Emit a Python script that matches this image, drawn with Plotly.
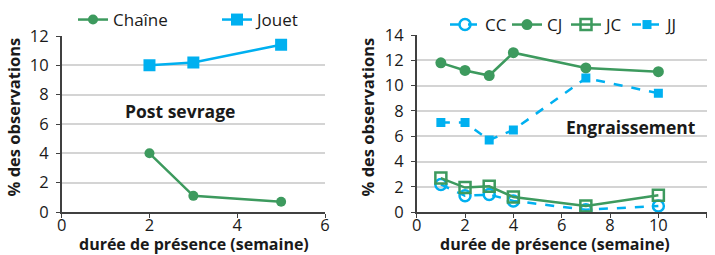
import plotly.graph_objects as go

# Left panel: Post sevrage
weeks_ps = [2, 3, 5]
chaine = [4.0, 1.1, 0.7]
jouet = [10.0, 10.2, 11.4]

# Right panel: Engraissement
weeks_en = [1, 2, 3, 4, 7, 10]
cc = [2.2, 1.3, 1.4, 0.9, 0.2, 0.5]
cj = [11.8, 11.2, 10.8, 12.6, 11.4, 11.1]
jc = [2.7, 1.95, 2.05, 1.2, 0.5, 1.35]
jj = [7.1, 7.1, 5.7, 6.5, 10.6, 9.4]

GREEN = "#3d9a5e"
BLUE = "#00b0f0"
FONT = "Open Sans"
TXT = "#1a1a1a"

W, H = 715, 255


def fx(v):
    return v / W


def fy(v):
    return 1 - v / H


fig = go.Figure()

fig.add_trace(go.Scatter(x=weeks_ps, y=chaine, name="Chaîne", mode="lines+markers",
                         line=dict(color=GREEN, width=2.5),
                         marker=dict(symbol="circle", size=10, color=GREEN),
                         xaxis="x", yaxis="y", legend="legend", showlegend=True))
fig.add_trace(go.Scatter(x=weeks_ps, y=jouet, name="Jouet", mode="lines+markers",
                         line=dict(color=BLUE, width=2.5),
                         marker=dict(symbol="square", size=12, color=BLUE),
                         xaxis="x", yaxis="y", legend="legend2", showlegend=True))

fig.add_trace(go.Scatter(x=weeks_en, y=cc, name="CC", mode="lines+markers",
                         line=dict(color=BLUE, width=2.5, dash="dash"),
                         marker=dict(symbol="circle-open", size=11, color=BLUE, line=dict(width=2.5)),
                         xaxis="x2", yaxis="y2", legend="legend3", showlegend=True))
fig.add_trace(go.Scatter(x=weeks_en, y=cj, name="CJ", mode="lines+markers",
                         line=dict(color=GREEN, width=2.5),
                         marker=dict(symbol="circle", size=11, color=GREEN),
                         xaxis="x2", yaxis="y2", legend="legend4", showlegend=True))
fig.add_trace(go.Scatter(x=weeks_en, y=jc, name="JC", mode="lines+markers",
                         line=dict(color=GREEN, width=2.5),
                         marker=dict(symbol="square-open", size=11, color=GREEN, line=dict(width=2.5)),
                         xaxis="x2", yaxis="y2", legend="legend5", showlegend=True))
fig.add_trace(go.Scatter(x=weeks_en, y=jj, name="JJ", mode="lines+markers",
                         line=dict(color=BLUE, width=2.5, dash="dash"),
                         marker=dict(symbol="square", size=9, color=BLUE),
                         xaxis="x2", yaxis="y2", legend="legend6", showlegend=True))

axis_common = dict(showline=True, linecolor="#404040", linewidth=1.5,
                   ticks="outside", ticklen=4, tickcolor="#404040",
                   tickfont=dict(family=FONT, size=16.5, color=TXT),
                   zeroline=False, automargin=False)

legend_spec = [("legend", 73, 20), ("legend2", 217, 20),
               ("legend3", 445, 25), ("legend4", 507, 25),
               ("legend5", 566, 25), ("legend6", 627, 25)]
legends = {}
for key, sx, cy in legend_spec:
    legends[key] = dict(orientation="h", x=fx(sx), y=fy(cy), xanchor="left", yanchor="middle",
                        font=dict(family=FONT, size=17, color=TXT),
                        bgcolor="rgba(0,0,0,0)", itemwidth=30, visible=True)

title_font = dict(family=FONT, size=16.5, color=TXT, weight="bold")
xtitle_font = dict(family=FONT, size=16, color=TXT, weight="bold")

fig.update_layout(
    width=W, height=H,
    showlegend=True,
    margin=dict(l=0, r=0, t=0, b=0, autoexpand=False),
    paper_bgcolor="white", plot_bgcolor="white",
    xaxis=dict(domain=[fx(61.7), fx(325)], range=[0, 6], dtick=2, showgrid=False,
               anchor="y", ticklabelstandoff=-7, **axis_common),
    yaxis=dict(domain=[fy(212), fy(36)], range=[0, 12], dtick=2,
               showgrid=True, gridcolor="#d4d4d4", gridwidth=2, anchor="x",
               ticklabelstandoff=4, **axis_common),
    xaxis2=dict(domain=[fx(416.7), fx(706.7)], range=[0, 12], dtick=2, showgrid=False,
                anchor="y2", ticklabelstandoff=-7, **axis_common),
    yaxis2=dict(domain=[fy(212.3), fy(35)], range=[0, 14], dtick=2,
                showgrid=True, gridcolor="#d4d4d4", gridwidth=2, anchor="x2",
                ticklabelstandoff=4, **axis_common),
    annotations=[
        dict(text="durée de présence (semaine)", x=fx(193.5), y=fy(243.5), xref="paper", yref="paper",
             showarrow=False, xanchor="center", yanchor="middle", font=xtitle_font),
        dict(text="durée de présence (semaine)", x=fx(555), y=fy(243.5), xref="paper", yref="paper",
             showarrow=False, xanchor="center", yanchor="middle", font=xtitle_font),
        dict(text="% des observations", x=fx(13.5), y=fy(117), xref="paper", yref="paper",
             showarrow=False, textangle=-90, xanchor="center", yanchor="middle", font=title_font),
        dict(text="% des observations", x=fx(367.5), y=fy(117), xref="paper", yref="paper",
             showarrow=False, textangle=-90, xanchor="center", yanchor="middle", font=title_font),
        dict(text="Post sevrage", x=fx(180), y=fy(111), xref="paper", yref="paper", showarrow=False,
             xanchor="center", yanchor="middle",
             font=dict(family=FONT, size=17.5, color=TXT, weight="bold")),
        dict(text="Engraissement", x=fx(698), y=fy(127), xref="paper", yref="paper", showarrow=False,
             xanchor="right", yanchor="middle",
             font=dict(family=FONT, size=17.5, color=TXT, weight="bold")),
    ],
    **legends,
)

fig.write_html("out.html", config={"displayModeBar": False},
               post_script="document.body.style.margin='0';")
